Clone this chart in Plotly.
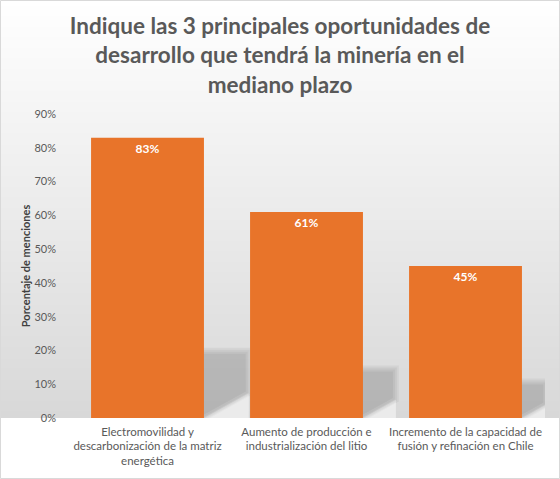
import base64, struct, zlib
import plotly.graph_objects as go

# ---- data ----
categories = [
    "Electromovilidad y<br>descarbonización de la matriz<br>energética",
    "Aumento de producción e<br>industrialización del litio",
    "Incremento de la capacidad de<br>fusión y refinación en Chile",
]
values = [0.83, 0.61, 0.45]
tick_vals = [0, 0.1, 0.2, 0.3, 0.4, 0.5, 0.6, 0.7, 0.8, 0.9]
title_text = ("Indique las 3 principales oportunidades de<br>"
              "desarrollo que tendrá la minería en el<br>mediano plazo")
y_title = "Porcentaje de menciones"

# ---- geometry ----
W, H = 560, 479
ML, MR, MT, MB = 68, 15, 114, 61
PW, PH = W - ML - MR, H - MT - MB
YMAX = 0.9
BAR_W = 0.71
PXX = PW / len(values)      # pixels per category unit
PXY = PH / YMAX             # pixels per value unit


def gradient_png(n, top, bottom):
    raw = b""
    for i in range(n):
        v = int(round(top + (bottom - top) * i / (n - 1)))
        raw += b"\x00" + bytes([v, v, v])

    def chunk(t, d):
        c = struct.pack(">I", len(d)) + t + d
        return c + struct.pack(">I", zlib.crc32(t + d) & 0xffffffff)

    png = b"\x89PNG\r\n\x1a\n"
    png += chunk(b"IHDR", struct.pack(">IIBBBBB", 1, n, 8, 2, 0, 0, 0))
    png += chunk(b"IDAT", zlib.compress(raw))
    png += chunk(b"IEND", b"")
    return "data:image/png;base64," + base64.b64encode(png).decode()


def to_path(pts):
    return "M " + " L ".join(f"{x:.4f},{y:.4f}" for x, y in pts) + " Z"


fig = go.Figure()
xs = list(range(len(values)))

fig.add_trace(go.Bar(
    x=xs, y=values, width=BAR_W,
    marker=dict(color="#E8742A", line=dict(width=0)),
    text=[f"{v:.0%}" for v in values],
    textposition="inside", insidetextanchor="end",
    textfont=dict(color="white", size=12, family="Lato", weight="bold"),
    showlegend=False, hoverinfo="skip",
))

# soft perspective shadows behind the bars, derived from each bar's value
shapes = []
slope = 0.55
for i, v in zip(xs, values):
    R = i + BAR_W / 2                      # right edge of bar (data x)
    hpx = v * PXY                          # bar height in px
    dx = 0.16 * hpx                        # shadow reach to the right (px)
    hs = 0.24 * hpx                        # shadow height (px)
    for g, a in [(-3, 0.045), (-1, 0.045), (1, 0.045), (3, 0.045)]:
        b0 = 2.07 * g
        pts_px = [(-8, 0), (b0, 0), (dx + g, slope * (dx + g - b0)),
                  (dx + g, hs + g), (-8, hs + g)]
        pts = [(R + px / PXX, max(py, 0) / PXY) for px, py in pts_px]
        shapes.append(dict(type="path", xref="x", yref="y", path=to_path(pts),
                           fillcolor=f"rgba(0,0,0,{a})", line=dict(width=0),
                           layer="below"))
    for g, a in [(0, 0.30), (2, 0.25)]:
        pts_px = [(2.07 * g, 0), (dx, slope * (dx - 2.07 * g)), (dx, 0)]
        pts = [(R + px / PXX, py / PXY) for px, py in pts_px]
        shapes.append(dict(type="path", xref="x", yref="y", path=to_path(pts),
                           fillcolor=f"rgba(255,255,255,{a})", line=dict(width=0),
                           layer="below"))

shapes.append(dict(type="rect", xref="paper", yref="paper",
                   x0=(-ML + 0.5) / PW, x1=(PW + MR - 0.5) / PW,
                   y0=(-MB + 0.5) / PH, y1=1 + (MT - 0.5) / PH,
                   line=dict(color="#d9d9d9", width=1),
                   fillcolor="rgba(0,0,0,0)", layer="above"))

fig.add_layout_image(dict(
    source=gradient_png(256, 255, 216),
    xref="paper", yref="paper",
    x=-ML / PW, y=1 + MT / PH,
    sizex=W / PW, sizey=(MT + PH) / PH,
    xanchor="left", yanchor="top",
    sizing="stretch", layer="below",
))

fig.update_layout(
    width=W, height=H,
    margin=dict(l=ML, r=MR, t=MT, b=MB),
    paper_bgcolor="white", plot_bgcolor="rgba(0,0,0,0)",
    font=dict(family="Lato", color="#595959"),
    shapes=shapes,
    title=dict(text=title_text, x=0.5, xref="container", xanchor="center",
               y=1 - 34 / H, yanchor="top",
               font=dict(family="Lato", size=22.5, color="#595959", weight="bold")),
    xaxis=dict(range=[-0.5, 2.5], tickvals=xs, ticktext=categories,
               showgrid=False, zeroline=False, showline=False,
               ticks="", ticklabelstandoff=5,
               tickfont=dict(size=11.5, color="#595959")),
    yaxis=dict(range=[0, YMAX], tickvals=tick_vals, tickformat=".0%",
               showgrid=False, zeroline=False, showline=False,
               ticks="", ticklabelstandoff=11,
               tickfont=dict(size=11, color="#595959")),
    bargap=0.29,
)
fig.update_yaxes(title=dict(text=y_title, standoff=1,
                            font=dict(size=11, color="#404040", weight="bold")))

fig.write_html("out.html", config={"displayModeBar": False},
               post_script="document.body.style.margin='0';")
